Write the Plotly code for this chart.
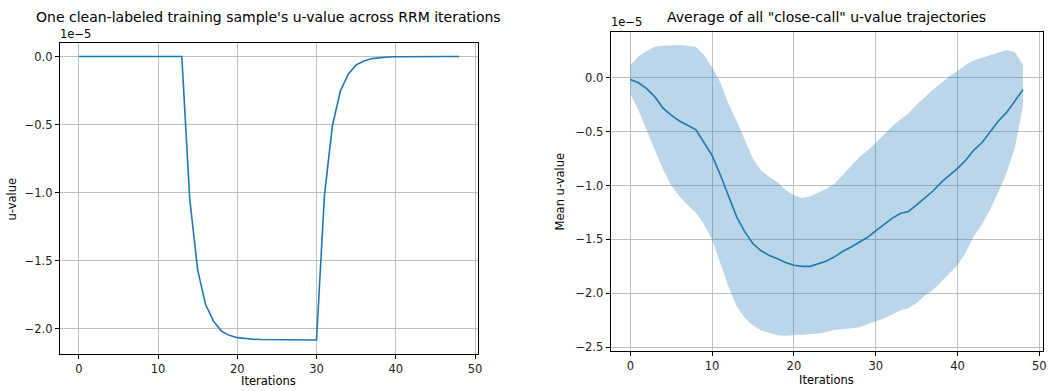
import plotly.graph_objects as go

# ---------------- data (values in units of 1e-5) ----------------
iterations = list(range(49))

clean_sample_u = [
    0.0, 0.0, 0.0, 0.0, 0.0, 0.0, 0.0, 0.0, 0.0, 0.0,
    0.0, 0.0, 0.0, 0.0, -1.045, -1.567, -1.822, -1.944, -2.017, -2.048,
    -2.065, -2.073, -2.077, -2.079, -2.080, -2.081, -2.081, -2.082, -2.082, -2.082,
    -2.082, -1.02, -0.51, -0.255, -0.129, -0.061, -0.032, -0.015, -0.007, -0.0035,
    -0.0017, -0.0008, -0.0004, -0.0002, -0.0001, 0.0, 0.0, 0.0, 0.0,
]

mean_u = [
    -0.015, -0.045, -0.10, -0.175, -0.28, -0.345, -0.40, -0.44, -0.48, -0.60,
    -0.72, -0.90, -1.10, -1.29, -1.43, -1.54, -1.605, -1.65, -1.68, -1.715,
    -1.74, -1.75, -1.75, -1.725, -1.70, -1.66, -1.61, -1.57, -1.525, -1.48,
    -1.42, -1.36, -1.305, -1.26, -1.24, -1.18, -1.115, -1.05, -0.97, -0.905,
    -0.84, -0.765, -0.67, -0.60, -0.50, -0.40, -0.32, -0.22, -0.11,
]

upper_u = [
    0.12, 0.20, 0.25, 0.29, 0.30, 0.305, 0.305, 0.30, 0.29, 0.215,
    0.10, -0.04, -0.24, -0.40, -0.57, -0.75, -0.86, -0.92, -0.97, -1.04,
    -1.09, -1.115, -1.10, -1.065, -1.03, -0.98, -0.90, -0.82, -0.735, -0.675,
    -0.60, -0.53, -0.45, -0.385, -0.33, -0.25, -0.18, -0.11, -0.05, 0.015,
    0.065, 0.12, 0.165, 0.19, 0.21, 0.24, 0.26, 0.24, 0.12,
]

lower_u = [
    -0.15, -0.30, -0.48, -0.67, -0.85, -1.00, -1.10, -1.18, -1.25, -1.36,
    -1.50, -1.72, -1.94, -2.12, -2.23, -2.30, -2.345, -2.37, -2.39, -2.395,
    -2.39, -2.385, -2.38, -2.375, -2.36, -2.34, -2.335, -2.325, -2.315, -2.29,
    -2.26, -2.235, -2.20, -2.16, -2.14, -2.09, -2.02, -1.97, -1.90, -1.82,
    -1.74, -1.62, -1.47, -1.36, -1.22, -1.06, -0.88, -0.65, -0.26,
]

x_ticks = [0, 10, 20, 30, 40, 50]
left_y_ticks = [0.0, -0.5, -1.0, -1.5, -2.0]
right_y_ticks = [0.0, -0.5, -1.0, -1.5, -2.0, -2.5]

title_left = "One clean-labeled training sample's u-value across RRM iterations"
title_right = 'Average of all "close-call" u-value trajectories'

# ---------------- figure ----------------
W, H = 1050, 391
BLUE = "#1f77b4"
FONT = "DejaVu Sans"

fig = go.Figure()

fig.add_trace(go.Scatter(
    x=iterations, y=clean_sample_u, mode="lines",
    line=dict(color=BLUE, width=1.6), xaxis="x", yaxis="y",
    showlegend=False, hoverinfo="skip"))

band_x = iterations + iterations[::-1]
band_y = upper_u + lower_u[::-1]
fig.add_trace(go.Scatter(
    x=band_x, y=band_y, mode="lines", fill="toself",
    fillcolor="rgba(31,119,180,0.3)", line=dict(width=0, color="rgba(0,0,0,0)"),
    xaxis="x2", yaxis="y2", showlegend=False, hoverinfo="skip"))
fig.add_trace(go.Scatter(
    x=iterations, y=mean_u, mode="lines",
    line=dict(color=BLUE, width=1.6), xaxis="x2", yaxis="y2",
    showlegend=False, hoverinfo="skip"))


def px_x(p):
    return p / W


def px_y(p):
    return 1 - p / H


axis_common = dict(
    showline=True, mirror=True, linecolor="#000000", linewidth=1,
    ticks="outside", ticklen=4, tickwidth=1, tickcolor="#000000",
    showgrid=True, gridcolor="#b0b0b0", gridwidth=0.8,
    zeroline=False, tickfont=dict(family=FONT, size=11.5, color="#222222"),
)

fig.update_layout(
    width=W, height=H,
    margin=dict(l=0, r=0, t=0, b=0),
    paper_bgcolor="white", plot_bgcolor="white",
    font=dict(family=FONT, size=11.5, color="#222222"),
    xaxis=dict(domain=[px_x(60), px_x(480)], range=[-2.4, 50.4],
               tickvals=x_ticks, anchor="y", **axis_common),
    yaxis=dict(domain=[px_y(357), px_y(43)], range=[-2.187, 0.102],
               tickvals=left_y_ticks, tickformat=".1f", anchor="x",
               **axis_common),
    xaxis2=dict(domain=[px_x(613), px_x(1047)], range=[-2.4, 50.45],
                tickvals=x_ticks, anchor="y2", **axis_common),
    yaxis2=dict(domain=[px_y(354), px_y(32)], range=[-2.539, 0.429],
                tickvals=right_y_ticks, tickformat=".1f", anchor="x2",
                **axis_common),
    showlegend=False,
)

annotations = [
    dict(text=title_left, x=px_x(270), y=px_y(17), font=dict(size=14)),
    dict(text=title_right, x=px_x(830), y=px_y(17), font=dict(size=14)),
    dict(text="1e\u22125", x=px_x(76), y=px_y(34), font=dict(size=11.5)),
    dict(text="1e\u22125", x=px_x(629), y=px_y(22), font=dict(size=11.5)),
    dict(text="Iterations", x=px_x(270), y=px_y(384), font=dict(size=11.5)),
    dict(text="Iterations", x=px_x(830), y=px_y(383), font=dict(size=11.5)),
    dict(text="u-value", x=px_x(13), y=px_y(200), textangle=-90, font=dict(size=11.5)),
    dict(text="Mean u-value", x=px_x(562), y=px_y(193), textangle=-90, font=dict(size=11.5)),
]
for a in annotations:
    fig.add_annotation(xref="paper", yref="paper", showarrow=False,
                       xanchor="center", yanchor="middle",
                       x=a["x"], y=a["y"], text=a["text"],
                       textangle=a.get("textangle", 0),
                       font=dict(family=FONT, color="#000000", size=a["font"]["size"]))

fig.write_html(
    "out.html",
    config={"displayModeBar": False, "staticPlot": True},
    post_script="document.body.style.margin='0px';document.body.style.overflow='hidden';",
)
